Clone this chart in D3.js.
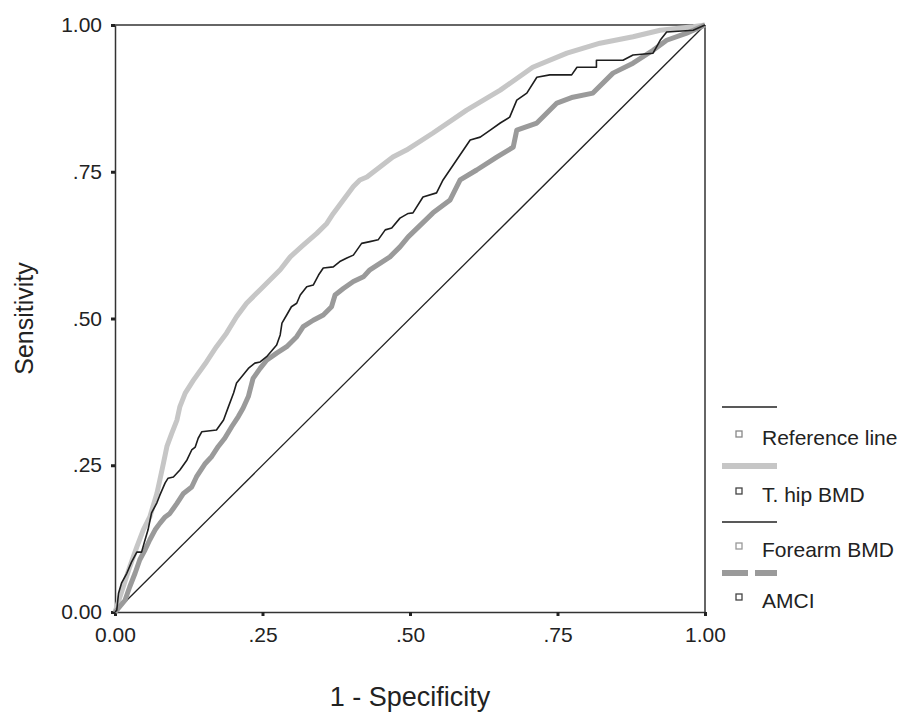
<!DOCTYPE html>
<html><head><meta charset="utf-8">
<script src="https://cdn.jsdelivr.net/npm/d3@7"></script>
<style>
html,body{margin:0;padding:0;background:#fff;}
svg{display:block;font-family:"Liberation Sans",Arial,sans-serif;}
</style></head>
<body>
<svg id="chart" width="907" height="716"></svg>
<script>
// ---- data (1 - specificity, sensitivity) ----
const xTickValues = [0, 0.25, 0.5, 0.75, 1];
const xTickLabels = ["0.00", ".25", ".50", ".75", "1.00"];
const yTickValues = [0, 0.25, 0.5, 0.75, 1];
const yTickLabels = ["0.00", ".25", ".50", ".75", "1.00"];

const referenceLine = [[0,0],[1,1]];

const thipBMD = [
 [0,0],[0.003,0.009],[0.014,0.043],[0.025,0.077],[0.037,0.111],[0.048,0.140],[0.059,0.162],
 [0.071,0.202],[0.076,0.225],[0.082,0.253],[0.088,0.282],[0.096,0.304],[0.105,0.327],
 [0.110,0.350],[0.119,0.373],[0.133,0.395],[0.155,0.426],[0.172,0.452],[0.189,0.475],
 [0.206,0.503],[0.223,0.526],[0.246,0.549],[0.263,0.566],[0.280,0.583],[0.297,0.605],
 [0.319,0.625],[0.342,0.645],[0.359,0.662],[0.370,0.679],[0.387,0.702],[0.404,0.725],
 [0.415,0.736],[0.427,0.741],[0.471,0.775],[0.494,0.787],[0.539,0.816],[0.596,0.855],
 [0.653,0.889],[0.708,0.928],[0.766,0.952],[0.822,0.969],[0.878,0.980],[0.924,0.991],
 [0.980,0.997],[1,1]
];

const forearmBMD = [
 [0,0],[0.003,0.003],[0.006,0.032],[0.011,0.049],[0.020,0.066],[0.028,0.085],[0.037,0.102],
 [0.045,0.102],[0.051,0.123],[0.056,0.140],[0.062,0.169],[0.071,0.186],[0.076,0.199],
 [0.085,0.220],[0.090,0.228],[0.099,0.230],[0.110,0.242],[0.122,0.259],[0.130,0.276],
 [0.136,0.281],[0.141,0.296],[0.147,0.307],[0.172,0.310],[0.184,0.327],[0.192,0.349],
 [0.201,0.373],[0.206,0.390],[0.215,0.401],[0.226,0.415],[0.237,0.424],[0.246,0.426],
 [0.257,0.435],[0.274,0.455],[0.280,0.472],[0.283,0.492],[0.291,0.506],[0.299,0.520],
 [0.308,0.526],[0.314,0.540],[0.325,0.554],[0.336,0.557],[0.345,0.574],[0.353,0.586],
 [0.370,0.588],[0.381,0.597],[0.393,0.603],[0.404,0.608],[0.418,0.628],[0.432,0.631],
 [0.446,0.634],[0.458,0.651],[0.469,0.654],[0.483,0.671],[0.497,0.679],[0.505,0.680],
 [0.522,0.707],[0.545,0.714],[0.556,0.736],[0.579,0.770],[0.602,0.804],[0.619,0.809],
 [0.636,0.821],[0.653,0.833],[0.669,0.843],[0.681,0.872],[0.698,0.884],[0.715,0.911],
 [0.737,0.915],[0.774,0.915],[0.783,0.928],[0.816,0.928],[0.816,0.940],[0.861,0.940],
 [0.878,0.949],[0.912,0.952],[0.924,0.974],[0.935,0.988],[0.980,0.991],[1,1]
];

const amci = [
 [0,0],[0.003,0.003],[0.017,0.020],[0.025,0.043],[0.034,0.066],[0.042,0.089],[0.051,0.106],
 [0.059,0.123],[0.068,0.140],[0.076,0.151],[0.085,0.162],[0.093,0.168],[0.105,0.185],
 [0.116,0.202],[0.130,0.213],[0.138,0.230],[0.153,0.253],[0.164,0.265],[0.175,0.282],
 [0.186,0.296],[0.198,0.316],[0.209,0.333],[0.217,0.347],[0.226,0.367],[0.234,0.398],
 [0.246,0.415],[0.257,0.429],[0.274,0.441],[0.291,0.452],[0.308,0.469],[0.319,0.486],
 [0.336,0.497],[0.353,0.506],[0.367,0.520],[0.373,0.540],[0.387,0.551],[0.404,0.563],
 [0.421,0.571],[0.432,0.583],[0.449,0.594],[0.466,0.605],[0.483,0.622],[0.497,0.639],
 [0.539,0.680],[0.568,0.702],[0.585,0.736],[0.613,0.753],[0.647,0.775],[0.675,0.792],
 [0.681,0.821],[0.715,0.833],[0.749,0.867],[0.776,0.877],[0.810,0.884],[0.844,0.918],
 [0.878,0.935],[0.912,0.957],[0.935,0.974],[0.969,0.986],[1,1]
];

const legendLabels = ["Reference line", "T. hip BMD", "Forearm BMD", "AMCI"];

// ---- layout ----
const svg = d3.select("#chart");
const mLeft = 115, mRight = 705, mTop = 25, mBottom = 612;
const x = d3.scaleLinear().domain([0,1]).range([mLeft, mRight]);
const y = d3.scaleLinear().domain([0,1]).range([mBottom, mTop]);
const axisColor = "#333";

// frame (top & right)
svg.append("line").attr("x1", mLeft).attr("x2", mRight).attr("y1", mTop).attr("y2", mTop)
  .attr("stroke", axisColor).attr("stroke-width", 1.5);
svg.append("line").attr("x1", mRight).attr("x2", mRight).attr("y1", mTop).attr("y2", mBottom)
  .attr("stroke", axisColor).attr("stroke-width", 1.5);

// axes
const xAxis = d3.axisBottom(x).tickValues(xTickValues)
  .tickFormat((d,i) => xTickLabels[i]).tickSize(4).tickPadding(11).tickSizeOuter(0);
const yAxis = d3.axisLeft(y).tickValues(yTickValues)
  .tickFormat((d,i) => yTickLabels[i]).tickSize(4).tickPadding(9).tickSizeOuter(0);

const gx = svg.append("g").attr("transform", `translate(0,${mBottom})`).call(xAxis);
const gy = svg.append("g").attr("transform", `translate(${mLeft},0)`).call(yAxis);
[gx, gy].forEach(g => {
  g.select(".domain").attr("stroke", axisColor).attr("stroke-width", 1.5);
  g.selectAll(".tick line").attr("stroke", "#222").attr("stroke-width", 3);
  g.selectAll(".tick text").attr("fill", "#222").style("font-size", "21px")
    .style("font-family", '"Liberation Sans", Arial, sans-serif');
});

// curves
const line = d3.line().x(d => x(d[0])).y(d => y(d[1]));
svg.append("path").datum(referenceLine).attr("d", line)
  .attr("fill", "none").attr("stroke", "#222").attr("stroke-width", 1.3);
svg.append("path").datum(thipBMD).attr("d", line)
  .attr("fill", "none").attr("stroke", "#c6c6c6").attr("stroke-width", 5).attr("stroke-linejoin", "round");
svg.append("path").datum(amci).attr("d", line)
  .attr("fill", "none").attr("stroke", "#9a9a9a").attr("stroke-width", 5).attr("stroke-linejoin", "round");
svg.append("path").datum(forearmBMD).attr("d", line)
  .attr("fill", "none").attr("stroke", "#1e1e1e").attr("stroke-width", 1.6).attr("stroke-linejoin", "round");

// axis titles
svg.append("text").attr("x", 410).attr("y", 706)
  .attr("text-anchor", "middle").attr("fill", "#222").style("font-size", "27px")
  .text("1 - Specificity");
svg.append("text").attr("transform", `translate(33,${(mTop + mBottom) / 2}) rotate(-90)`)
  .attr("text-anchor", "middle").attr("fill", "#222").style("font-size", "25px")
  .text("Sensitivity");

// legend
const legendStyles = [
  {stroke: "#222", width: 1.5, dash: null, sq: "#888"},
  {stroke: "#c6c6c6", width: 6, dash: null, sq: "#444"},
  {stroke: "#222", width: 1.5, dash: null, sq: "#999"},
  {stroke: "#9a9a9a", width: 6, dash: "26,7", sq: "#444"}
];
const legendLineY = [407, 466, 522, 573];
const legendTextY = [445, 502, 557, 608];
const lg = svg.append("g");
legendLabels.forEach((lab, i) => {
  const s = legendStyles[i];
  lg.append("line").attr("x1", 722).attr("x2", 777).attr("y1", legendLineY[i]).attr("y2", legendLineY[i])
    .attr("stroke", s.stroke).attr("stroke-width", s.width).attr("stroke-dasharray", s.dash);
  lg.append("rect").attr("x", 736).attr("y", legendTextY[i] - 14).attr("width", 6).attr("height", 6)
    .attr("fill", "#fff").attr("stroke", s.sq).attr("stroke-width", 1.3);
  lg.append("text").attr("x", 762).attr("y", legendTextY[i]).attr("fill", "#222")
    .style("font-size", "21px").text(lab);
});
</script>
</body></html>
